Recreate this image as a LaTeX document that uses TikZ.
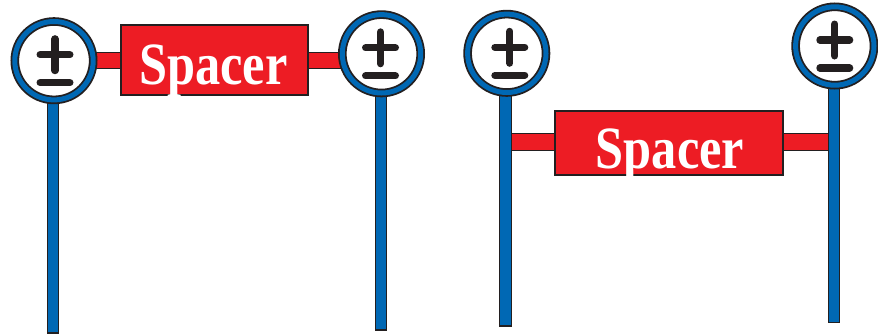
\documentclass[tikz,border=0pt]{standalone}
\usepackage{fontspec}
\setmainfont{Liberation Serif}
\usetikzlibrary{calc}
\definecolor{ringblue}{HTML}{0068B4}
\definecolor{spred}{HTML}{ED1C24}
\definecolor{ink}{HTML}{231F20}
\tikzset{
  x=1pt, y=-1pt,
  ring/.style={circle, draw=ink, double=ringblue, line width=1.8pt, double distance=5pt,
    fill=white, minimum size=78.4pt, inner sep=0pt, outer sep=0pt},
  sign/.style={draw=ink, line width=7.2pt, line cap=round},
  polebar/.style={fill=ringblue, draw=ink, line width=1.2pt},
  redbar/.style={draw=ink, line width=1.2pt, double=spred, double distance=15.5pt},
  spacerbox/.style={rectangle, fill=spred, draw=ink, line width=1.5pt, inner sep=0pt},
  spacertext/.style={anchor=base, inner sep=0pt, text=white,
    font=\bfseries\fontsize{60}{60}\selectfont},
}
\newcommand{\spacerword}{\scalebox{0.84}[1]{Spacer}}
\begin{document}
\begin{tikzpicture}
\useasboundingbox (0,0) rectangle (878,335);
% red bars
\coordinate (b1) at (54,60.5);
\coordinate (b2) at (381,60.5);
\coordinate (b3) at (506,142);
\coordinate (b4) at (834,142);
\draw[redbar] (b1) -- (b2);
\draw[redbar] (b3) -- (b4);
% poles
\coordinate (p1) at (53,333);
\coordinate (p2) at (381,330);
\coordinate (p3) at (505.5,326);
\coordinate (p4) at (834,322.5);
\coordinate (t1) at (53,80);
\coordinate (t2) at (381,80);
\coordinate (t3) at (505.5,80);
\coordinate (t4) at (834,70);
\foreach \i in {1,2,3,4}{
  \draw[polebar] ($(t\i)+(-5.8,0)$) rectangle ($(p\i)+(5.8,0)$);
}
% circles
\node[ring] (c1) at (54,60.7) {};
\node[ring] (c2) at (381.5,53.8) {};
\node[ring] (c3) at (506.8,53.3) {};
\node[ring] (c4) at (834.8,46) {};
% spacer boxes
\node[spacerbox, minimum width=187pt, minimum height=70pt] (s1) at (214.5,60) {};
\node[spacertext] (w1) at (213.5,84) {\spacerword};
\node[spacerbox, minimum width=228pt, minimum height=64pt] (s2) at (669,143) {};
\node[spacertext] (w2) at (670,168) {\spacerword};
% plus-minus signs
\foreach \c/\dx in {c1/1,c2/-1,c3/3,c4/0}{
  \draw[sign] ($(\c)+(\dx-14.9,-6)$) -- ($(\c)+(\dx+14.9,-6)$);
  \draw[sign] ($(\c)+(\dx,-21.9)$) -- ($(\c)+(\dx,9.9)$);
  \draw[sign] ($(\c)+(\dx-14.9,22)$) -- ($(\c)+(\dx+14.9,22)$);
}
\end{tikzpicture}
\end{document}
